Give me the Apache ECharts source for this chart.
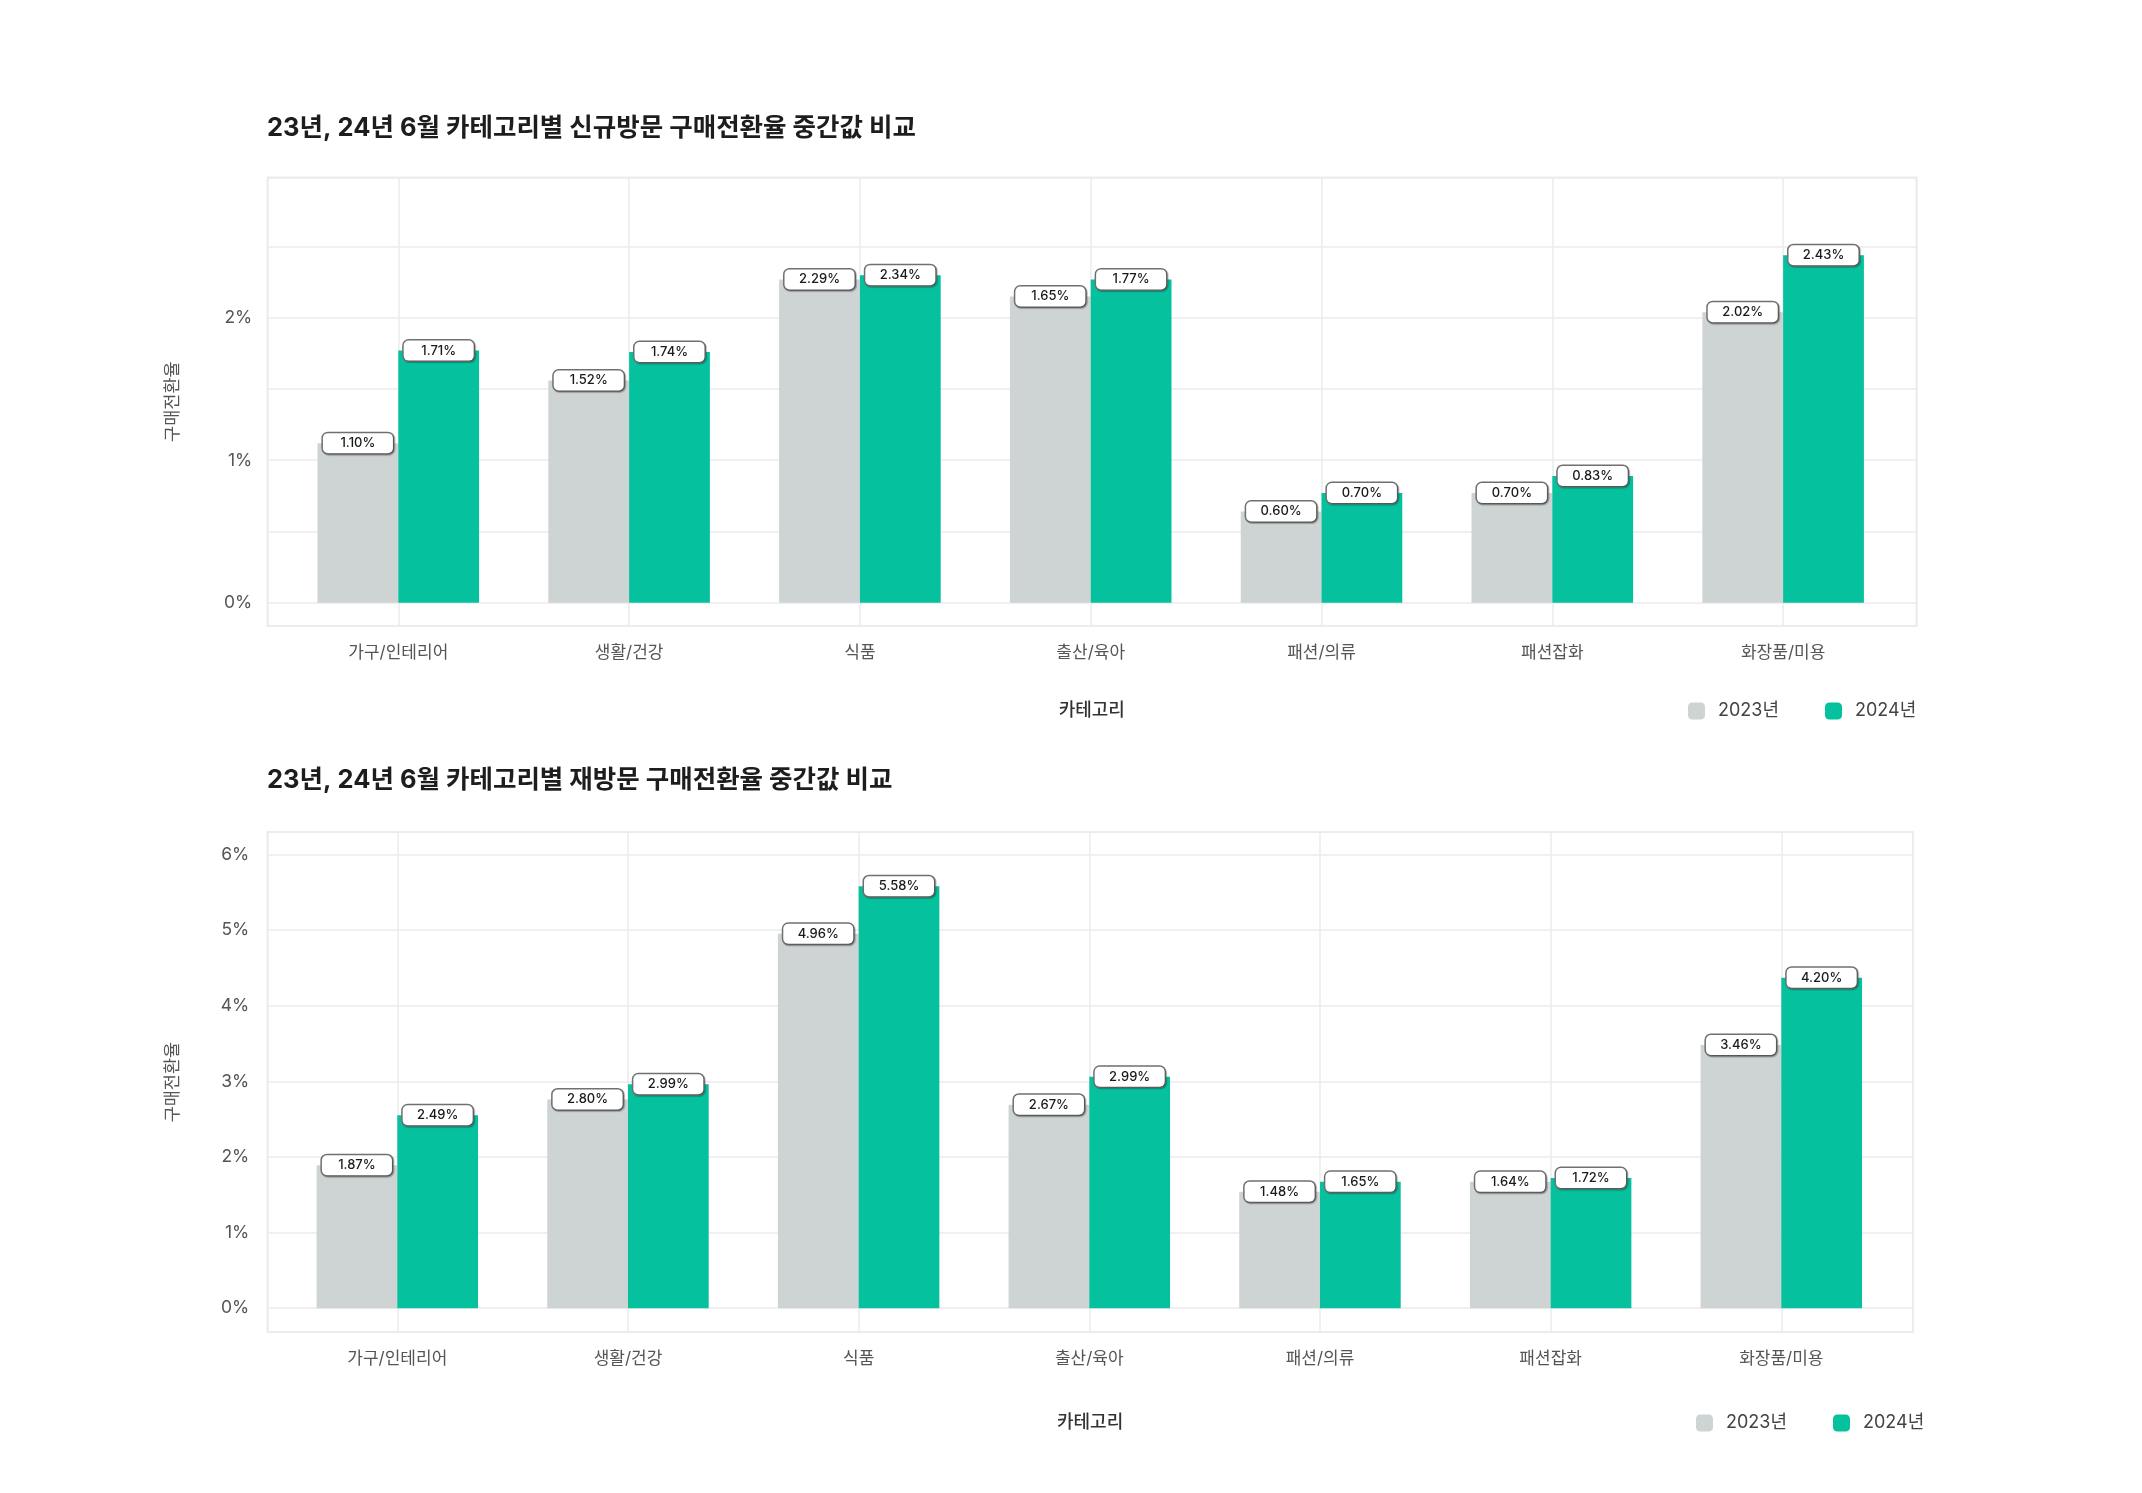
<!DOCTYPE html>
<html lang="ko">
<head>
<meta charset="utf-8">
<title>카테고리별 구매전환율 중간값 비교</title>
<script src="https://cdn.jsdelivr.net/npm/echarts@6/dist/echarts.min.js"></script>
<style>
  html, body { margin: 0; padding: 0; background: #fff; }
  #chart { width: 2142px; height: 1493px; }
</style>
</head>
<body>
<div id="chart"></div>
<script>
const categories = ["가구/인테리어", "생활/건강", "식품", "출산/육아", "패션/의류", "패션잡화", "화장품/미용"];
const years = ["2023년", "2024년"];

// 신규방문: bar heights as drawn, and the label text printed on them
const newBars2023 = [1.12, 1.56, 2.27, 2.15, 0.64, 0.77, 2.04];
const newBars2024 = [1.77, 1.76, 2.30, 2.27, 0.77, 0.89, 2.44];
const newLabels2023 = ["1.10%", "1.52%", "2.29%", "1.65%", "0.60%", "0.70%", "2.02%"];
const newLabels2024 = ["1.71%", "1.74%", "2.34%", "1.77%", "0.70%", "0.83%", "2.43%"];

// 재방문
const revisitBars2023 = [1.89, 2.76, 4.95, 2.69, 1.54, 1.67, 3.48];
const revisitBars2024 = [2.55, 2.96, 5.58, 3.06, 1.67, 1.72, 4.37];
const revisitLabels2023 = ["1.87%", "2.80%", "4.96%", "2.67%", "1.48%", "1.64%", "3.46%"];
const revisitLabels2024 = ["2.49%", "2.99%", "5.58%", "2.99%", "1.65%", "1.72%", "4.20%"];

const titles = [
  "23년, 24년 6월 카테고리별 신규방문 구매전환율 중간값 비교",
  "23년, 24년 6월 카테고리별 재방문 구매전환율 중간값 비교",
];

const colors = ["#ced3d3", "#05c19d"];
const font = 'Inter, "Noto Sans CJK KR", sans-serif';
const gridColor = "#ebebeb";

const isWhole = (v) => Math.abs(v - Math.round(v)) < 1e-6;

function makeXAxis(gridIndex, min, max, nameGap) {
  return {
    type: "value",
    gridIndex,
    min,
    max,
    name: "카테고리",
    nameLocation: "middle",
    nameGap,
    nameTextStyle: { fontFamily: font, fontSize: 18, fontWeight: 500, color: "#333" },
    axisLine: { show: false },
    axisTick: { show: false },
    axisLabel: {
      margin: 18,
      fontFamily: font,
      fontSize: 17,
      color: "#555",
      showMinLabel: true,
      showMaxLabel: true,
      formatter: (v) => (isWhole(v) && v >= 1 && v <= categories.length ? categories[Math.round(v) - 1] : ""),
    },
    splitLine: { show: true, lineStyle: { color: gridColor, width: 1.5 } },
  };
}

function makeYAxis(gridIndex, min, max, margin) {
  return {
    type: "value",
    gridIndex,
    min,
    max,
    name: "구매전환율",
    nameLocation: "middle",
    nameGap: 86,
    nameTextStyle: { fontFamily: font, fontSize: 17.5, color: "#555" },
    axisLine: { show: false },
    axisTick: { show: false },
    axisLabel: {
      margin,
      fontFamily: font,
      fontSize: 17.5,
      color: "#555",
      formatter: (v) => (isWhole(v) ? Math.round(v) + "%" : ""),
    },
    splitLine: { show: true, lineStyle: { color: gridColor, width: 1.5 } },
  };
}

function makeBar(name, axisIndex, values, labels, color) {
  return {
    name,
    type: "bar",
    xAxisIndex: axisIndex,
    yAxisIndex: axisIndex,
    barWidth: "35%",
    barGap: "0%",
    itemStyle: { color },
    data: values.map((v, i) => [i + 1, v]),
    label: {
      show: true,
      position: "top",
      distance: -10,
      formatter: (p) => labels[p.dataIndex],
      fontFamily: font,
      fontSize: 13,
      fontWeight: 500,
      color: "#1a1a1a",
      width: 50,
      align: "center",
      lineHeight: 14,
      padding: [3, 10],
      backgroundColor: "#fff",
      borderColor: "#707070",
      borderWidth: 1.5,
      borderRadius: 5,
      shadowColor: "rgba(0,0,0,0.25)",
      shadowBlur: 1,
      shadowOffsetX: 1,
      shadowOffsetY: 1,
    },
    emphasis: { disabled: true },
  };
}

const legendBase = {
  orient: "horizontal",
  icon: "roundRect",
  itemWidth: 17,
  itemHeight: 17,
  itemGap: 46,
  selectedMode: false,
  textStyle: { fontFamily: font, fontSize: 18, color: "#444", padding: [0, 0, 0, 8] },
  data: years,
};

const chart = echarts.init(document.getElementById("chart"));
chart.setOption({
  animation: false,
  backgroundColor: "#fff",
  title: titles.map((t, i) => ({
    text: t,
    left: 267,
    top: i === 0 ? 112 : 764,
    padding: 0,
    textStyle: { fontFamily: font, fontSize: 25.5, fontWeight: "bold", color: "#1d1d1d", lineHeight: 32 },
  })),
  legend: [
    Object.assign({}, legendBase, { left: 1683, top: 697 }),
    Object.assign({}, legendBase, { left: 1691, top: 1409 }),
  ],
  grid: [
    { left: 267.3, top: 177.3, width: 1649, height: 448.7, show: true, borderColor: gridColor, borderWidth: 1.5, backgroundColor: "#fff" },
    { left: 267.3, top: 832.1, width: 1645.6, height: 500, show: true, borderColor: gridColor, borderWidth: 1.5, backgroundColor: "#fff" },
  ],
  xAxis: [makeXAxis(0, 0.4324, 7.577, 76), makeXAxis(1, 0.4364, 7.5705, 81)],
  yAxis: [makeYAxis(0, -0.164, 2.987, 15), makeYAxis(1, -0.317, 6.295, 18)],
  series: [
    makeBar(years[0], 0, newBars2023, newLabels2023, colors[0]),
    makeBar(years[1], 0, newBars2024, newLabels2024, colors[1]),
    makeBar(years[0], 1, revisitBars2023, revisitLabels2023, colors[0]),
    makeBar(years[1], 1, revisitBars2024, revisitLabels2024, colors[1]),
  ],
});
</script>
</body>
</html>
